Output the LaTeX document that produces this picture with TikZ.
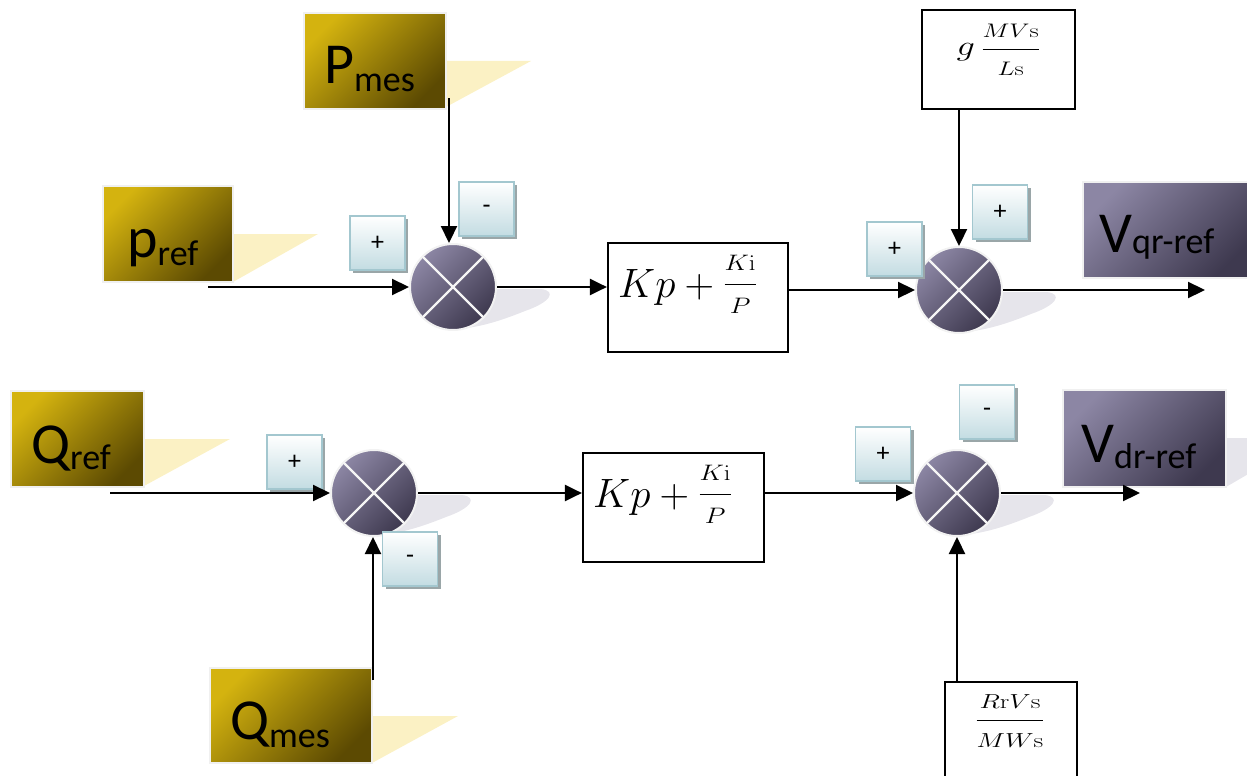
\RequirePackage{fix-cm}
\documentclass[tikz,border=0pt]{standalone}
\usepackage{amsmath}
\usepackage[no-math]{fontspec}
\setmainfont{Carlito}
\usetikzlibrary{arrows.meta,shadows,calc}

\definecolor{goldA}{HTML}{D4B30F}
\definecolor{goldB}{HTML}{5C4A02}
\definecolor{violA}{HTML}{8C86A4}
\definecolor{violB}{HTML}{3E394F}
\definecolor{signB}{HTML}{C3DCE2}
\definecolor{signEdge}{HTML}{A3C7CF}
\definecolor{signShade}{HTML}{9AA6A8}
\definecolor{paleGold}{HTML}{FBF1C4}
\definecolor{paleGrey}{HTML}{E6E5EB}

% big label with a smaller, lowered index
\newcommand{\siglabel}[3]{{\fontsize{58}{58}\selectfont #1}\raisebox{-#3pt}{\fontsize{36}{36}\selectfont #2}}
% PI law K_p + K_i/P
\newcommand{\pilaw}{\fontsize{41}{41}\selectfont
  $Kp+\raisebox{5pt}{\scalebox{1.2}[1]{\fontsize{32}{32}\selectfont$\dfrac{\scriptstyle K\mathrm{i}}{\scriptstyle P}$}}$}
% tilted soft shadow to the lower right of a summing junction
\newcommand{\sumshade}[1]{%
  \fill[sumshadow, shift={(#1)}] (25,2) -- (88,2)
    .. controls (104,4) and (98,15) .. (72,24)
    .. controls (52,32) and (30,40) .. (5,42) -- cycle;}

\begin{document}
\begin{tikzpicture}[x=1pt,y=-1pt,
  goldbox/.style={rectangle, draw=black!6, line width=2pt, inner sep=0pt,
    top color=goldA, bottom color=goldB, shading angle=45},
  violbox/.style={rectangle, draw=black!6, line width=2pt, inner sep=0pt,
    top color=violA, bottom color=violB, shading angle=45},
  labeltext/.style={inner sep=0pt, anchor=base west, text=black},
  sumjunc/.style={circle, minimum size=86pt, inner sep=0pt, draw=black!5,
    line width=2pt, top color=violA, bottom color=violB, shading angle=45},
  xline/.style={draw=white!96!black, line width=2.4pt},
  signbox/.style={rectangle, minimum width=55pt, minimum height=54pt,
    draw=signEdge, line width=1.6pt, top color=white, bottom color=signB,
    drop shadow={shadow xshift=3pt, shadow yshift=-3pt, fill=signShade, opacity=1},
    font=\fontsize{26}{26}\selectfont},
  blockbox/.style={rectangle, draw=black, line width=2.2pt, fill=white, inner sep=0pt},
  formula/.style={inner sep=0pt},
  flow/.style={draw=black, line width=2.2pt, -{Triangle[length=17pt,width=16pt]}},
  sumshadow/.style={fill=paleGrey}
]
\useasboundingbox (0,0) rectangle (1247,776);
\clip (0,0) rectangle (1247,776);

% pale wedge shadows behind the signal boxes
\fill[paleGold] (233,234) -- (318,234) -- (233,282) -- cycle;
\fill[paleGold] (446,61) -- (531,61) -- (446,107) -- cycle;
\fill[paleGold] (144,439) -- (230,439) -- (144,486) -- cycle;
\fill[paleGold] (372,716) -- (458,716) -- (372,763) -- cycle;
\fill[paleGrey] (1226,438) -- (1310,438) -- (1226,487) -- cycle;

% soft shadows of the summing junctions
\sumshade{453,287}
\sumshade{959,290}
\sumshade{374,493}
\sumshade{957,493}

% input / output signal boxes
\node[goldbox, minimum width=130pt, minimum height=96pt] (pref) at (168,234) {};
\node[labeltext] (preftxt) at (127,257) {\siglabel{p}{ref}{8}};
\node[goldbox, minimum width=142pt, minimum height=96pt] (pmes) at (375,61) {};
\node[labeltext] (pmestxt) at (324,83) {\siglabel{P}{mes}{8}};
\node[goldbox, minimum width=133pt, minimum height=96pt] (qref) at (77.5,439) {};
\node[labeltext] (qreftxt) at (31,463) {\siglabel{Q}{ref}{6}};
\node[goldbox, minimum width=162pt, minimum height=95pt] (qmes) at (291,715.5) {};
\node[labeltext] (qmestxt) at (230,739) {\siglabel{Q}{mes}{8}};
\node[violbox, minimum width=170pt, minimum height=96pt] (vqr) at (1168,230) {};
\node[labeltext] (vqrtxt) at (1099,252) {\siglabel{V}{qr-ref}{1}};
\node[violbox, minimum width=163pt, minimum height=97pt] (vdr) at (1144.5,438.5) {};
\node[labeltext] (vdrtxt) at (1081,462) {\siglabel{V}{dr-ref}{6}};

% PI blocks and feed-forward blocks
\node[blockbox, minimum width=180pt, minimum height=109pt] (kp1) at (698,297.5) {};
\node[formula, anchor=base west] (kp1txt) at (618,297) {\pilaw};
\node[blockbox, minimum width=181pt, minimum height=109pt] (kp2) at (673.5,507.5) {};
\node[formula, anchor=base west] (kp2txt) at (593,507) {\pilaw};
\node[blockbox, minimum width=153pt, minimum height=99pt] (gbox) at (998.5,59.5) {};
\node[formula, anchor=base] (gtxt) at (998.5,56)
  {\scalebox{1.3}[1]{\fontsize{28}{28}\selectfont
    $g\,\dfrac{\scriptstyle MV\mathrm{s}}{\scriptstyle L\mathrm{s}}$}};
\node[blockbox, minimum width=132pt, minimum height=118pt] (rbox) at (1011,741) {};
\node[formula, anchor=base] (rtxt) at (1010,728)
  {\scalebox{1.33}[1]{\fontsize{29}{29}\selectfont
    $\dfrac{\scriptstyle R\mathrm{r}V\mathrm{s}}{\scriptstyle MW\mathrm{s}}$}};

% summing junctions
\node[sumjunc] (s1) at (453,287) {};
\node[sumjunc] (s2) at (959,290) {};
\node[sumjunc] (s3) at (374,493) {};
\node[sumjunc] (s4) at (957,493) {};
\foreach \s in {s1,s2,s3,s4}{
  \draw[xline] (\s.north west) -- (\s.south east);
  \draw[xline] (\s.north east) -- (\s.south west);
}

% sign tags
\node[signbox] (g1p) at (377.5,243) {+};
\node[signbox] (g1m) at (486.5,209) {-};
\node[signbox] (g2p) at (894.5,249) {+};
\node[signbox] (g2q) at (1000,212) {+};
\node[signbox] (g3p) at (294.5,462) {+};
\node[signbox] (g3m) at (410,559) {-};
\node[signbox] (g4p) at (883,454) {+};
\node[signbox] (g4m) at (987,412) {-};

% upper loop
\coordinate (prefIn) at (208,287);
\coordinate (pmesOut) at (449,98);
\coordinate (vqrOut) at (1205,290);
\draw[flow] (prefIn) -- (s1.west);
\draw[flow] (pmesOut) -- (pmesOut |- s1.north);
\draw[flow] (s1.east) -- (s1.east -| kp1.west);
\draw[flow] (s2.west -| kp1.east) -- (s2.west);
\draw[flow] (gbox.south -| s2.north) -- (s2.north);
\draw[flow] (s2.east) -- (vqrOut);

% lower loop
\coordinate (qrefIn) at (110,493);
\coordinate (qmesOut) at (373,680);
\coordinate (vdrOut) at (1140,493);
\draw[flow] (qrefIn) -- (s3.west);
\draw[flow] (qmesOut) -- (qmesOut |- s3.south);
\draw[flow] (s3.east) -- (s3.east -| kp2.west);
\draw[flow] (s4.west -| kp2.east) -- (s4.west);
\draw[flow] (rbox.north -| s4.south) -- (s4.south);
\draw[flow] (s4.east) -- (vdrOut);
\end{tikzpicture}
\end{document}
